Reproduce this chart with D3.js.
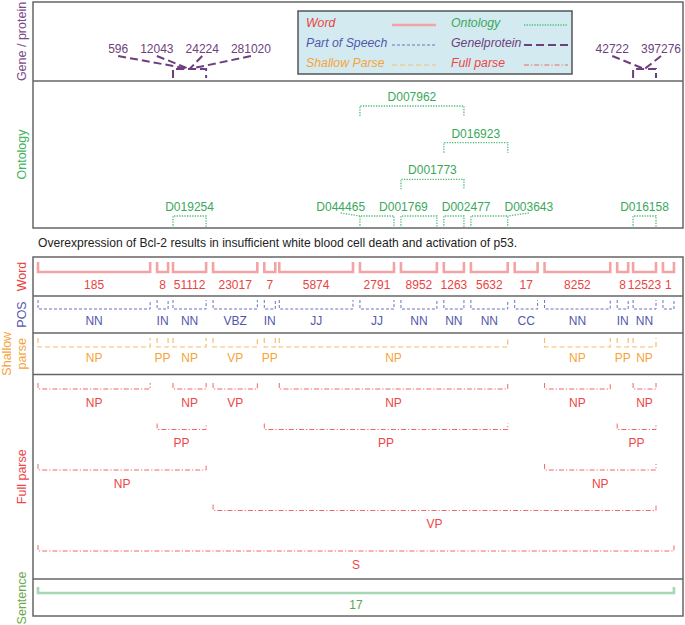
<!DOCTYPE html>
<html><head><meta charset="utf-8">
<script src="https://cdn.jsdelivr.net/npm/d3@7"></script>
<style>body{margin:0;background:#fff} svg{display:block;font-family:"Liberation Sans",Arial,Helvetica,sans-serif}</style>
</head><body><svg id="c" width="685" height="625"></svg>
<script>
// ---------------- DATA ----------------
const sentenceText = "Overexpression of Bcl-2 results in insufficient white blood cell death and activation of p53.";
const tokens = ["Overexpression","of","Bcl-2","results","in","insufficient","white","blood","cell","death","and","activation","of","p53","."];
const wordIds = [185, 8, 51112, 23017, 7, 5874, 2791, 8952, 1263, 5632, 17, 8252, 8, 12523, 1];
const posTags = ["NN","IN","NN","VBZ","IN","JJ","JJ","NN","NN","NN","CC","NN","IN","NN",""];
const shallowChunks = [
  {label:"NP", from:0, to:0}, {label:"PP", from:1, to:1}, {label:"NP", from:2, to:2},
  {label:"VP", from:3, to:3}, {label:"PP", from:4, to:4}, {label:"NP", from:5, to:9},
  {label:"NP", from:11, to:11}, {label:"PP", from:12, to:12}, {label:"NP", from:13, to:13}
];
const fullParse = [
  {label:"NP", from:0, to:0, level:0}, {label:"NP", from:2, to:2, level:0},
  {label:"VP", from:3, to:3, level:0}, {label:"NP", from:5, to:9, level:0},
  {label:"NP", from:11, to:11, level:0}, {label:"NP", from:13, to:13, level:0},
  {label:"PP", from:1, to:2, level:1}, {label:"PP", from:4, to:9, level:1},
  {label:"PP", from:12, to:13, level:1},
  {label:"NP", from:0, to:2, level:2}, {label:"NP", from:11, to:13, level:2},
  {label:"VP", from:3, to:13, level:3},
  {label:"S", from:0, to:14, level:4}
];
const ontologyTerms = [
  {id:"D019254", from:2, to:2, level:0}, {id:"D044465", from:6, to:6, level:0},
  {id:"D001769", from:7, to:7, level:0}, {id:"D002477", from:8, to:8, level:0},
  {id:"D003643", from:9, to:9, level:0}, {id:"D016158", from:13, to:13, level:0},
  {id:"D001773", from:7, to:8, level:1}, {id:"D016923", from:8, to:9, level:2},
  {id:"D007962", from:6, to:8, level:3}
];
const geneMentions = [
  {ids:["596","12043","24224","281020"], from:2, to:2},
  {ids:["42722","397276"], from:13, to:13}
];
const sentenceId = "17";
const rowNames = ["Gene / protein","Ontology","Word","POS","Shallow parse","Full parse","Sentence"];
const legendItems = [
  {name:"Word", key:"word", col:0, row:0}, {name:"Part of Speech", key:"pos", col:0, row:1},
  {name:"Shallow Parse", key:"shallow", col:0, row:2}, {name:"Ontology", key:"ontology", col:1, row:0},
  {name:"Genelprotein", key:"gene", col:1, row:1}, {name:"Full parse", key:"full", col:1, row:2}
];

// ---------------- STYLES ----------------
const styles = {
  word:     {stroke:"#f3a3a3", width:2.6, dash:null,          text:"#e9433f"},
  pos:      {stroke:"#6b70c2", width:1,   dash:"3,2",         text:"#5257ad"},
  shallow:  {stroke:"#f8bd6c", width:1.2, dash:"5,3",         text:"#f5a43a"},
  ontology: {stroke:"#4fbb74", width:1.3, dash:"1.3,1.3",     text:"#3aa85b"},
  gene:     {stroke:"#6e3f7e", width:2,   dash:"8,4",         text:"#6e3f7e"},
  full:     {stroke:"#f06767", width:1,   dash:"5,2,1.2,2",   text:"#ee4545"},
  sentence: {stroke:"#a6d8b3", width:2.6, dash:null,          text:"#5aa64c"}
};
const rowColors = ["#7a4a8a","#3cb35a","#e9433f","#5257ad","#f5a43a","#ee4545","#6aaa4a"];

const svg = d3.select("#c");
const FONT = "'Liberation Sans', Arial, Helvetica, sans-serif";

// ---------------- X SCALE from token text widths ----------------
const ctx = document.createElement("canvas").getContext("2d");
ctx.font = "100px " + FONT;
const spaceW = ctx.measureText(" ").width * 0.42;
let cum = 0;
const ext = tokens.map((t, i) => { if (i > 0) cum += spaceW; const s = cum; cum += ctx.measureText(t).width; return {s, e:cum}; });
const x = d3.scaleLinear().domain([0, cum]).range([38, 667.6]);
const INSET = 5, MINW = 11;
const x0 = i => x(ext[i].s);
const x1 = i => Math.max(x(ext[i].e) - INSET, x(ext[i].s) + MINW);
function textW(t, size){ ctx.font = size + "px " + FONT; return ctx.measureText(t).width; }

// ---------------- helpers ----------------
function styled(sel, st){
  sel.attr("fill","none").attr("stroke", st.stroke).attr("stroke-width", st.width);
  if (st.dash) sel.attr("stroke-dasharray", st.dash);
  return sel;
}
const cup = (a, b, top, bot) => `M${a},${top}V${bot}H${b}V${top}`;
const cap = (a, b, top, bot) => `M${a},${bot}V${top}H${b}V${bot}`;

function dodge(items, gap, minX, maxX){
  items.sort((a,b) => a.want - b.want);
  let groups = items.map(it => ({m:[it]}));
  const place = g => {
    const tot = d3.sum(g.m, d => d.w) + gap * (g.m.length - 1);
    let start = d3.mean(g.m, d => d.want) - tot / 2;
    start = Math.max(minX, Math.min(maxX - tot, start));
    g.start = start; g.end = start + tot;
  };
  groups.forEach(place);
  let merged = true;
  while (merged){
    merged = false;
    for (let i = 1; i < groups.length; i++){
      if (groups[i-1].end + gap > groups[i].start){
        groups[i-1].m = groups[i-1].m.concat(groups[i].m);
        groups.splice(i, 1); place(groups[i-1]); merged = true; break;
      }
    }
  }
  groups.forEach(g => { let p = g.start; g.m.forEach(d => { d.cx = p + d.w / 2; p += d.w + gap; }); });
  return items;
}

// ---------------- PANELS ----------------
const frame = {l:33, r:683};
const topPanel = {top:2, geneBot:81, bot:228};
const botPanel = {top:257, word:296, pos:333, shallow:374.5, full:579, bot:616};
const g = svg.append("g").attr("stroke","#666").attr("stroke-width",1.5).attr("fill","none");
g.append("rect").attr("x",frame.l).attr("y",topPanel.top).attr("width",frame.r-frame.l).attr("height",topPanel.bot-topPanel.top);
g.append("rect").attr("x",frame.l).attr("y",botPanel.top).attr("width",frame.r-frame.l).attr("height",botPanel.bot-botPanel.top);
[topPanel.geneBot, botPanel.word, botPanel.pos, botPanel.shallow, botPanel.full].forEach(y =>
  g.append("line").attr("x1",frame.l).attr("x2",frame.r).attr("y1",y).attr("y2",y));

// row labels
const rowCenters = [(topPanel.top+topPanel.geneBot)/2, (topPanel.geneBot+topPanel.bot)/2,
  (botPanel.top+botPanel.word)/2, (botPanel.word+botPanel.pos)/2, (botPanel.pos+botPanel.shallow)/2,
  (botPanel.shallow+botPanel.full)/2, 598];
rowNames.forEach((n, i) => {
  const lines = n === "Shallow parse" ? ["Shallow","parse"] : [n];
  lines.forEach((ln, j) => {
    const bx = lines.length === 1 ? 25.5 : (j === 0 ? 10.5 : 25.5);
    svg.append("text").attr("transform",`translate(${bx},${rowCenters[i]}) rotate(-90)`)
      .attr("text-anchor","middle").attr("font-size",12.5).attr("fill",rowColors[i]).text(ln);
  });
});

// sentence text
svg.append("text").attr("x",38).attr("y",247).attr("font-size",12.1).attr("fill","#222").text(sentenceText);

// ---------------- WORD / POS / SHALLOW ----------------
function cupRow(data, key, top, bot, base, labelFn){
  const st = styles[key];
  const gg = svg.append("g");
  data.forEach(d => {
    const a = x0(d.from), b = x1(d.to);
    styled(gg.append("path").attr("d", cup(a, b, top, bot)), st);
    const lab = labelFn(d);
    if (lab !== "") gg.append("text").attr("x",(a+b)/2).attr("y",base).attr("text-anchor","middle")
      .attr("font-size",12).attr("fill",st.text).text(lab);
  });
}
cupRow(tokens.map((t,i)=>({from:i,to:i,i})), "word", 262, 272, 288.5, d => String(wordIds[d.i]));
cupRow(tokens.map((t,i)=>({from:i,to:i,i})), "pos", 300, 309, 325, d => posTags[d.i]);
cupRow(shallowChunks, "shallow", 338, 347, 362, d => d.label);

// full parse
const yFull = d3.scaleLinear().domain([0,4]).range([389, 551]);
fullParse.forEach(d => {
  const a = x0(d.from), b = x1(d.to), yb = yFull(d.level);
  styled(svg.append("path").attr("d", cup(a, b, yb-6, yb)), styles.full);
  svg.append("text").attr("x",(a+b)/2).attr("y",yb+17.5).attr("text-anchor","middle")
    .attr("font-size",12).attr("fill",styles.full.text).text(d.label);
});

// sentence
{
  const a = x0(0), b = x1(tokens.length-1);
  styled(svg.append("path").attr("d", cup(a, b, 587, 593)), styles.sentence);
  svg.append("text").attr("x",(a+b)/2).attr("y",609).attr("text-anchor","middle")
    .attr("font-size",12).attr("fill",styles.sentence.text).text(sentenceId);
}

// ---------------- ONTOLOGY ----------------
const yOnt = d3.scaleLinear().domain([0,3]).range([216, 106]);
const ontItems = ontologyTerms.map(d => ({...d, a:x0(d.from), b:x1(d.to), want:(x0(d.from)+x1(d.to))/2, w:textW(d.id,12)}));
d3.groups(ontItems, d => d.level).forEach(([lvl, arr]) => dodge(arr, 14, frame.l+4, frame.r-4));
ontItems.forEach(d => {
  const top = yOnt(d.level), bot = d.level === 0 ? topPanel.bot : top + 10;
  styled(svg.append("path").attr("d", cap(d.a, d.b, top, bot)), styles.ontology);
  const base = top - 5;
  svg.append("text").attr("x",d.cx).attr("y",base).attr("text-anchor","middle")
    .attr("font-size",12).attr("fill",styles.ontology.text).text(d.id);
  if (Math.abs(d.cx - d.want) > 20){
    const ex = Math.max(d.a, Math.min(d.b, d.cx));
    styled(svg.append("line").attr("x1",d.cx).attr("y1",base+2).attr("x2",ex).attr("y2",top), styles.ontology);
  }
});

// ---------------- GENE / PROTEIN ----------------
geneMentions.forEach(gm => {
  const a = x0(gm.from), b = x1(gm.to), c = (a+b)/2, top = 69, bot = 78;
  const labs = dodge(gm.ids.map(id => ({id, want:c, w:textW(id,12)})), 12, frame.l+4, frame.r-2);
  labs.forEach(l => {
    styled(svg.append("line").attr("x1",l.cx).attr("y1",56).attr("x2",c).attr("y2",top), styles.gene);
    svg.append("text").attr("x",l.cx).attr("y",52.5).attr("text-anchor","middle")
      .attr("font-size",12).attr("fill",styles.gene.text).text(l.id);
  });
  styled(svg.append("path").attr("d", cap(a, b, top, bot)), styles.gene);
});

// ---------------- LEGEND ----------------
const lg = svg.append("g");
lg.append("rect").attr("x",298).attr("y",11).attr("width",274).attr("height",63)
  .attr("fill","#d3ebf0").attr("stroke","#555").attr("stroke-width",1.5);
const colX = [306, 451], sampX = [[392,436],[524,568]], rowY = [22, 42, 62];
legendItems.forEach(it => {
  const st = styles[it.key], y = rowY[it.row];
  lg.append("text").attr("x",colX[it.col]).attr("y",y+4.5).attr("font-size",12.3)
    .attr("font-style","italic").attr("fill",st.text).text(it.name);
  styled(lg.append("line").attr("x1",sampX[it.col][0]).attr("x2",sampX[it.col][1])
    .attr("y1",y+3).attr("y2",y+3), st);
});
</script></body></html>
